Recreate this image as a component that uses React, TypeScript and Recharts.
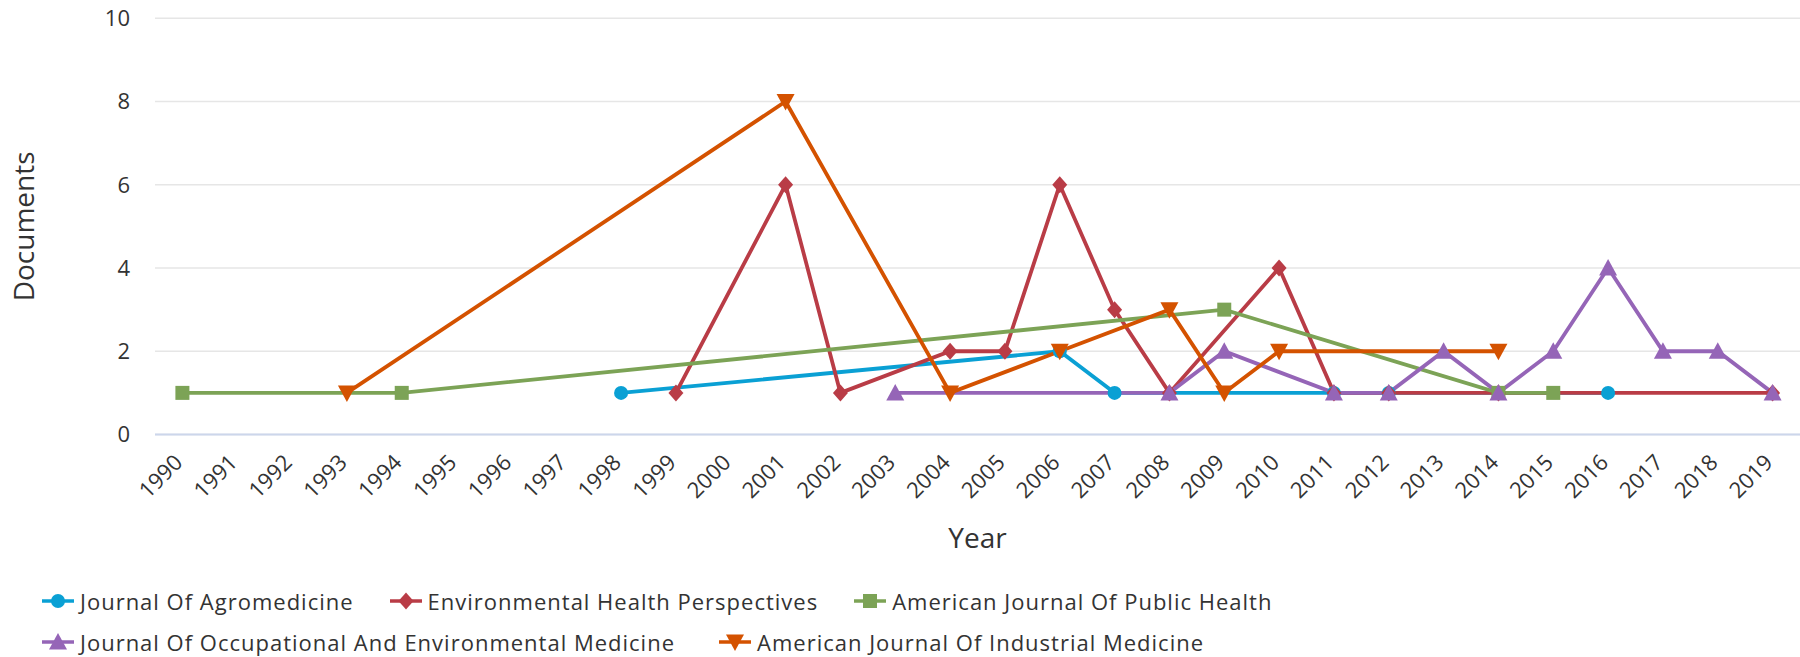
import React from 'react';
import { LineChart, Line, XAxis, YAxis, CartesianGrid, Legend } from 'recharts';

const years = [
  '1990','1991','1992','1993','1994','1995','1996','1997','1998','1999',
  '2000','2001','2002','2003','2004','2005','2006','2007','2008','2009',
  '2010','2011','2012','2013','2014','2015','2016','2017','2018','2019',
];

// values per year (null = no point)
const agromedicine = [
  null,null,null,null,null,null,null,null,1,null,
  null,null,null,null,null,null,2,1,null,null,
  null,1,1,null,null,null,1,null,null,null,
];
const envHealth = [
  null,null,null,null,null,null,null,null,null,1,
  null,6,1,null,2,2,6,3,1,null,
  4,1,1,null,1,null,null,null,null,1,
];
const publicHealth = [
  1,null,null,null,1,null,null,null,null,null,
  null,null,null,null,null,null,null,null,null,3,
  null,null,null,null,1,1,null,null,null,null,
];
const occEnvMed = [
  null,null,null,null,null,null,null,null,null,null,
  null,null,null,1,null,null,null,null,1,2,
  null,1,1,2,1,2,4,2,2,1,
];
const industrialMed = [
  null,null,null,1,null,null,null,null,null,null,
  null,8,null,null,1,null,2,null,3,1,
  2,null,null,null,2,null,null,null,null,null,
];

const yTicks = [0, 2, 4, 6, 8, 10];

const series = [
  { key: 'agro', name: 'Journal Of Agromedicine', color: '#0aa0d4', shape: 'circle', values: agromedicine },
  { key: 'ehp', name: 'Environmental Health Perspectives', color: '#b93c46', shape: 'diamond', values: envHealth },
  { key: 'ajph', name: 'American Journal Of Public Health', color: '#7ca356', shape: 'square', values: publicHealth },
  { key: 'joem', name: 'Journal Of Occupational And Environmental Medicine', color: '#9565b7', shape: 'triangle', values: occEnvMed },
  { key: 'ajim', name: 'American Journal Of Industrial Medicine', color: '#d45200', shape: 'triangle-down', values: industrialMed },
];

const data = years.map((y, i) => {
  const row: any = { year: y };
  series.forEach((s) => { row[s.key] = s.values[i]; });
  return row;
});

const FONT = "'Open Sans', sans-serif";
const TEXT = '#333333';

function markerShape(shape: string, cx: number, cy: number, color: string, k?: any) {
  switch (shape) {
    case 'circle':
      return <circle key={k} cx={cx} cy={cy} r={7} fill={color} />;
    case 'diamond':
      return <polygon key={k} points={`${cx},${cy - 8.5} ${cx + 7.5},${cy} ${cx},${cy + 8.5} ${cx - 7.5},${cy}`} fill={color} />;
    case 'square':
      return <rect key={k} x={cx - 7} y={cy - 7} width={14} height={14} fill={color} />;
    case 'triangle':
      return <polygon key={k} points={`${cx},${cy - 9} ${cx + 9},${cy + 7.5} ${cx - 9},${cy + 7.5}`} fill={color} />;
    default:
      return <polygon key={k} points={`${cx - 9},${cy - 7.5} ${cx + 9},${cy - 7.5} ${cx},${cy + 9}`} fill={color} />;
  }
}

const makeDot = (shape: string, color: string) => (props: any) => {
  const { cx, cy, index, value } = props;
  if (cx == null || cy == null || value == null || Number.isNaN(cy)) return <g key={index} />;
  return markerShape(shape, cx, cy, color, index);
};

const XTick = (props: any) => {
  const { x, y, payload } = props;
  return (
    <text
      transform={`translate(${x - 4},${y + 24}) rotate(-45)`}
      textAnchor="end"
      dy="0.35em"
      fontSize={22}
      fontFamily={FONT}
      fill={TEXT}
    >
      {payload.value}
    </text>
  );
};

const YTick = (props: any) => {
  const { x, y, payload } = props;
  return (
    <text x={x} y={y} textAnchor="end" dy="0.36em" fontSize={22} fontFamily={FONT} fill={TEXT}>
      {payload.value}
    </text>
  );
};

const LegendContent = () => {
  const rows = [series.slice(0, 3), series.slice(3)];
  return (
    <div style={{ fontFamily: FONT, fontSize: 22, color: TEXT, letterSpacing: 1.0 }}>
      {rows.map((row, ri) => (
        <div key={ri} style={{ display: 'flex', alignItems: 'center', height: 41, paddingLeft: 42, gap: ri === 0 ? 36 : 44 }}>
          {row.map((s) => (
            <div key={s.key} style={{ display: 'flex', alignItems: 'center', whiteSpace: 'nowrap' }}>
              <svg width={32} height={20} style={{ marginRight: 6 }}>
                <line x1={0} y1={10} x2={32} y2={10} stroke={s.color} strokeWidth={3.5} />
                {markerShape(s.shape, 16, 10, s.color)}
              </svg>
              <span>{s.name}</span>
            </div>
          ))}
        </div>
      ))}
    </div>
  );
};

export default function App() {
  return (
    <div style={{ position: 'absolute', left: 0, top: 0, width: 1800, height: 657, background: '#ffffff' }}>
      <LineChart width={1800} height={657} data={data} margin={{ top: 18.3, right: 0, left: 0, bottom: 0 }}>
        <CartesianGrid horizontal vertical={false} stroke="#e6e6e6" strokeWidth={1.5} />
        <XAxis
          dataKey="year"
          height={222.5}
          interval={0}
          padding={{ left: 27.4, right: 27.4 }}
          tickLine={false}
          axisLine={{ stroke: '#ccd6eb', strokeWidth: 2 }}
          tickSize={0}
          tickMargin={0}
          tick={<XTick />}
          label={{
            content: (p: any) => {
              const vb = p.viewBox;
              return (
                <text x={vb.x + vb.width / 2} y={vb.y + 102} textAnchor="middle" dominantBaseline="central"
                  fontSize={28} fontFamily={FONT} fill={TEXT}>
                  Year
                </text>
              );
            },
          }}
        />
        <YAxis
          width={155}
          domain={[0, 10]}
          ticks={yTicks}
          interval={0}
          tickLine={false}
          axisLine={false}
          tickSize={0}
          tickMargin={25}
          tick={<YTick />}
          label={{
            content: (p: any) => {
              const vb = p.viewBox;
              const cx = vb.x + 23;
              const cy = vb.y + vb.height / 2;
              return (
                <text x={cx} y={cy} transform={`rotate(-90, ${cx}, ${cy})`} textAnchor="middle" dominantBaseline="central"
                  fontSize={28} fontFamily={FONT} fill={TEXT}>
                  Documents
                </text>
              );
            },
          }}
        />
        <Legend
          layout="horizontal"
          verticalAlign="middle"
          align="center"
          wrapperStyle={{ position: 'absolute', left: 0, top: 580, width: 1800, height: 82 }}
          content={<LegendContent />}
        />
        {series.map((s) => (
          <Line
            key={s.key}
            dataKey={s.key}
            name={s.name}
            type="linear"
            stroke={s.color}
            strokeWidth={3.8}
            connectNulls
            dot={makeDot(s.shape, s.color)}
            activeDot={false}
            isAnimationActive={false}
          />
        ))}
      </LineChart>
    </div>
  );
}
